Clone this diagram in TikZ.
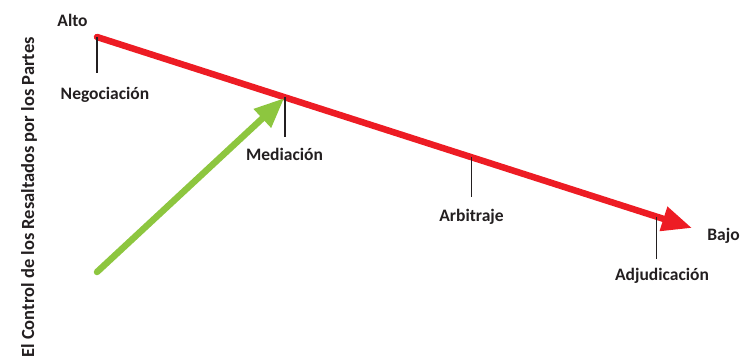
\documentclass[tikz,border=0pt]{standalone}
\usepackage{fontspec}
\setmainfont{Carlito}
\usepackage{xcolor}
\usetikzlibrary{arrows.meta,calc}

\definecolor{scalered}{HTML}{ED1C24}
\definecolor{pushgreen}{HTML}{8DC63F}
\definecolor{inkgray}{HTML}{231F20}

\begin{document}
\begin{tikzpicture}[x=1pt,y=-1pt,
		lbl/.style={font=\bfseries\fontsize{17.5}{20}\selectfont, text=inkgray, inner sep=0pt, anchor=base},
		tick/.style={draw=inkgray, line width=1.1pt},
		bigarrow/.style={line width=6.5pt, line cap=round, -{Triangle[length=30pt,width=24pt]}}]
		\useasboundingbox (0,0) rectangle (741,360);

		% ends of the scale
		\coordinate (hi) at (97,37);
		\coordinate (lo) at (692,228);

		\draw[bigarrow, scalered] (hi) -- (lo);

		% ticks on the scale
		\foreach \t/\len/\name in {0/36/neg, 0.316/40/med, 0.629/40/arb, 0.941/42/adj} {
			\coordinate (\name-top) at ($(hi)!\t!(lo)$);
			\draw[tick] (\name-top) -- ++(0,\len) coordinate (\name-bot);
		}

		% labels (placed on their base lines)
		\node[lbl] (alto) at (72.5,26.3) {Alto};
		\node[lbl] (bajo) at (723.5,240.3) {Bajo};
		\node[lbl] (neg) at (105,99.3) {Negociación};
		\node[lbl] (med) at (284.5,160.7) {Mediación};
		\node[lbl] (arb) at (471.5,221.7) {Arbitraje};
		\node[lbl] (adj) at (662,280) {Adjudicación};

		\node[lbl, anchor=center, rotate=90, font=\bfseries\fontsize{18.5}{20}\selectfont] (axis) at (29,197.5) {El Control de los Resaltados por los Partes};

		% push towards mediation
		\coordinate (push) at (97,272);
		\draw[bigarrow, pushgreen, shorten >=1pt] (push) -- (med-top);
	\end{tikzpicture}
\end{document}
